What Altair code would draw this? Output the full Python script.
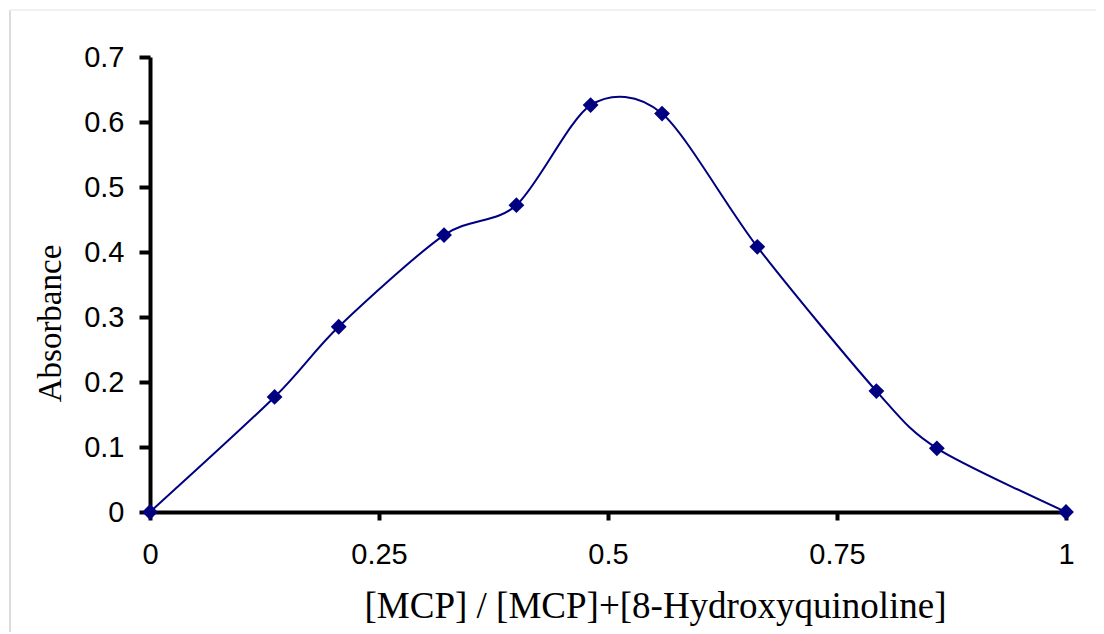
import altair as alt
import pandas as pd

ratio = [0, 0.136, 0.206, 0.321, 0.400, 0.481, 0.559, 0.663, 0.793, 0.859, 1.0]
absorbance = [0, 0.177, 0.285, 0.426, 0.472, 0.626, 0.613, 0.408, 0.186, 0.098, 0]
x_ticks = [0, 0.25, 0.5, 0.75, 1]
y_ticks = [0, 0.1, 0.2, 0.3, 0.4, 0.5, 0.6, 0.7]

df = pd.DataFrame({"ratio": ratio, "abs": absorbance})
frame_df = pd.DataFrame({"a": [0]})

W, H = 916, 455

x_enc = alt.X(
    "ratio:Q",
    scale=alt.Scale(domain=[0, 1], nice=False, zero=False),
    axis=alt.Axis(
        values=x_ticks, format="~g", grid=False,
        domainColor="black", domainWidth=4, tickColor="black", tickWidth=4, tickSize=8,
        labelFont="Liberation Sans", labelFontSize=29, labelColor="black", labelPadding=20,
        labelFlush=False,
        title="[MCP] / [MCP]+[8-Hydroxyquinoline]",
        titleFont="Liberation Serif", titleFontSize=37, titleFontWeight="normal", titleColor="black",
        titleX=505, titleY=105, titleBaseline="alphabetic", titleAlign="center",
    ),
)
y_enc = alt.Y(
    "abs:Q",
    scale=alt.Scale(domain=[0, 0.7], nice=False),
    axis=alt.Axis(
        values=y_ticks, format="~g", grid=False,
        domainColor="black", domainWidth=4, tickColor="black", tickWidth=4, tickSize=11,
        labelFont="Liberation Sans", labelFontSize=29, labelColor="black", labelPadding=15,
        labelFlush=False,
        title="Absorbance",
        titleFont="Liberation Serif", titleFontSize=33, titleFontWeight="normal", titleColor="black",
        titleX=-90, titleY=266, titleBaseline="alphabetic", titleAlign="center", titleAngle=270,
    ),
)

line = alt.Chart(df).mark_line(
    interpolate="cardinal", tension=0.15, color="#000080", strokeWidth=2
).encode(x=x_enc, y=y_enc)

points = alt.Chart(df).mark_point(
    shape="diamond", filled=True, color="#000080", size=250, opacity=1
).encode(x="ratio:Q", y="abs:Q")

frame_left = alt.Chart(frame_df).mark_rule(color="#d0d0d0", strokeWidth=1.5).encode(
    x=alt.value(-140), y=alt.value(-47), y2=alt.value(H + 140)
)
frame_top = alt.Chart(frame_df).mark_rule(color="#ececec", strokeWidth=1.5).encode(
    x=alt.value(-140), x2=alt.value(W + 60), y=alt.value(-47)
)

chart = (
    alt.layer(frame_left, frame_top, line, points)
    .properties(
        width=W, height=H,
        autosize=alt.AutoSizeParams(type="none"),
        padding={"left": 142, "top": 49, "right": 30, "bottom": 120},
    )
    .configure(background="white")
    .configure_view(stroke=None)
    .configure_axis(domainWidth=4, tickWidth=4, domainColor="black", tickColor="black")
)

chart.save("out.html", embed_options={"renderer": "svg", "actions": False})
